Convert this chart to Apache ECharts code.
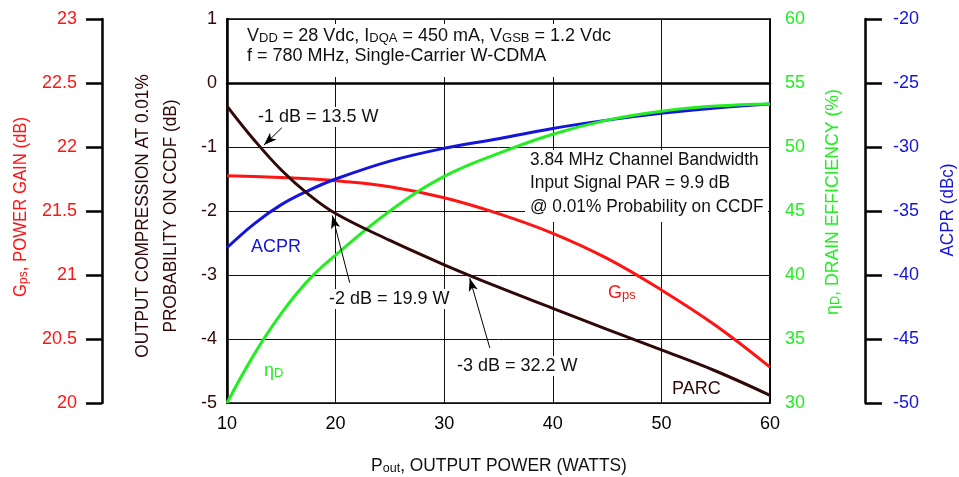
<!DOCTYPE html>
<html>
<head>
<meta charset="utf-8">
<script src="https://cdn.jsdelivr.net/npm/echarts@6/dist/echarts.min.js"></script>
<style>html,body{margin:0;padding:0;background:#fff}#c{width:959px;height:477px}</style>
</head>
<body>
<div id="c"></div>
<script>
// ---- data ----
const poutW = [10, 12.5, 15, 17.5, 20, 25, 30, 35, 40, 45, 50, 55, 60];
const parcDb = [-0.36, -0.89, -1.36, -1.74, -2.04, -2.46, -2.84, -3.19, -3.52, -3.85, -4.17, -4.50, -4.88];
const gpsDb = [21.776, 21.77, 21.762, 21.752, 21.737, 21.69, 21.604, 21.48, 21.326, 21.13, 20.883, 20.605, 20.28];
const acprDbc = [-37.87, -36.0, -34.5, -33.4, -32.5, -31.1, -30.1, -29.35, -28.55, -27.9, -27.37, -26.95, -26.64];
const effPct = [30, 33.8, 37.0, 39.6, 41.56, 45.0, 47.7, 49.5, 51.0, 52.1, 52.8, 53.2, 53.36];
const xTicks = [10, 20, 30, 40, 50, 60];

const F = "'Liberation Sans',Arial,sans-serif";
const BROWN = '#300808', RED = '#ff1414', GREEN = '#22ee22', BLUE = '#1414dd';
const pairs = ys => poutW.map((x, i) => [x, ys[i]]);

const chart = echarts.init(document.getElementById('c'), null, {renderer: 'canvas'});
const lbl = (c, m) => ({color: c, fontSize: 18, fontFamily: F, margin: m});

const sub = (fs) => ({
  n: {fontSize: fs, fontFamily: F, lineHeight: 20, verticalAlign: 'bottom'},
  s: {fontSize: Math.round(fs * 0.72), fontFamily: F, lineHeight: 9, verticalAlign: 'bottom'}
});

function lineSeries(name, ys, axis, color) {
  return {name, type: 'line', yAxisIndex: axis, data: pairs(ys), smooth: 0.4,
          symbol: 'none', lineStyle: {color, width: 3}, z: 2, silent: true};
}

const parcSeries = lineSeries('PARC', parcDb, 0, BROWN);
parcSeries.markLine = {
  silent: true, symbol: ['none', 'arrow'], symbolSize: [7, 13], animation: false,
  lineStyle: {color: '#000', width: 1, type: 'solid'}, label: {show: false},
  data: [
    [{coord: [15.05, -0.70]}, {coord: [13.4, -0.97]}],
    [{coord: [21.3, -3.12]}, {coord: [19.7, -2.07]}],
    [{coord: [34.2, -4.14]}, {coord: [32.35, -3.05]}]
  ]
};

const option = {
  animation: false,
  grid: {left: 227, right: 189, top: 19, bottom: 74, show: true, borderColor: '#000', borderWidth: 1.5, backgroundColor: 'transparent'},
  xAxis: {
    type: 'value', min: 10, max: 60, interval: 10,
    axisLine: {lineStyle: {color: '#000', width: 2.5}}, axisTick: {show: false},
    axisLabel: lbl('#000', 12),
    splitLine: {show: true, lineStyle: {color: '#111', width: 1}}
  },
  yAxis: [
    {type: 'value', min: -5, max: 1, interval: 1, position: 'left',
     axisLine: {show: true, lineStyle: {color: '#000', width: 2.5}}, axisTick: {show: false},
     axisLabel: lbl(BROWN, 10), splitLine: {show: true, lineStyle: {color: '#111', width: 1}}},
    {type: 'value', min: 20, max: 23, interval: 0.5, position: 'left', offset: 125,
     axisLine: {show: true, lineStyle: {color: '#000', width: 2.5}},
     axisTick: {show: true, length: 16, lineStyle: {color: '#000', width: 2.5}},
     axisLabel: lbl(RED, 25), splitLine: {show: false}},
    {type: 'value', min: 30, max: 60, interval: 5, position: 'right',
     axisLine: {show: true, lineStyle: {color: '#000', width: 1.5}}, axisTick: {show: false},
     axisLabel: lbl(GREEN, 15), splitLine: {show: false}},
    {type: 'value', min: -50, max: -20, interval: 5, position: 'right', offset: 95,
     axisLine: {show: true, lineStyle: {color: '#000', width: 2.5}},
     axisTick: {show: true, length: 17, lineStyle: {color: '#000', width: 2.5}},
     axisLabel: lbl(BLUE, 28), splitLine: {show: false}}
  ],
  series: [
    lineSeries('Gps', gpsDb, 1, RED),
    lineSeries('ACPR', acprDbc, 3, BLUE),
    lineSeries('Efficiency', effPct, 2, GREEN),
    parcSeries
  ],
  graphic: [
    // white boxes
    {type: 'rect', z: 1, silent: true, shape: {x: 229, y: 24, width: 414, height: 53}, style: {fill: '#fff'}},
    {type: 'rect', z: 1, silent: true, shape: {x: 525, y: 150, width: 243, height: 72}, style: {fill: '#fff'}},
    // condition text
    {type: 'text', z: 5, x: 247, y: 25, style: {
      text: '{n|V}{s|DD}{n| = 28 Vdc, I}{s|DQA}{n| = 450 mA, V}{s|GSB}{n| = 1.2 Vdc}\n{n|f = 780 MHz, Single-Carrier W-CDMA}',
      rich: sub(18), fill: '#111', align: 'left', verticalAlign: 'top'}},
    {type: 'text', z: 5, x: 530, y: 148, scaleX: 0.96, style: {
      text: '3.84 MHz Channel Bandwidth\nInput Signal PAR = 9.9 dB\n@ 0.01% Probability on CCDF',
      font: '18px ' + F, lineHeight: 23.5, fill: '#111', align: 'left', verticalAlign: 'top'}},
    // point labels
    {type: 'text', z: 5, x: 256, y: 117, style: {text: '-1 dB = 13.5 W', font: '18px ' + F, fill: '#111',
      align: 'left', verticalAlign: 'middle', backgroundColor: '#fff', padding: [1, 2]}},
    {type: 'text', z: 5, x: 327, y: 299, style: {text: '-2 dB = 19.9 W', font: '18px ' + F, fill: '#111',
      align: 'left', verticalAlign: 'middle', backgroundColor: '#fff', padding: [1, 2]}},
    {type: 'text', z: 5, x: 455, y: 366, style: {text: '-3 dB = 32.2 W', font: '18px ' + F, fill: '#111',
      align: 'left', verticalAlign: 'middle', backgroundColor: '#fff', padding: [1, 2]}},
    // curve labels
    {type: 'text', z: 5, x: 251, y: 247, style: {text: 'ACPR', font: '18px ' + F, fill: BLUE, align: 'left', verticalAlign: 'middle'}},
    {type: 'text', z: 5, x: 264, y: 360, style: {text: '{n|\u03b7}{s|D}', rich: sub(18), fill: GREEN, align: 'left', verticalAlign: 'top'}},
    {type: 'text', z: 5, x: 608, y: 282, style: {text: '{n|G}{s|ps}', rich: sub(18), fill: RED, align: 'left', verticalAlign: 'top'}},
    {type: 'text', z: 5, x: 672, y: 389, style: {text: 'PARC', font: '18px ' + F, fill: BROWN, align: 'left', verticalAlign: 'middle'}},
    // axis titles
    {type: 'text', z: 5, x: 20, y: 207, rotation: Math.PI / 2, scaleX: 0.93, style: {
      text: '{n|G}{s|ps}{n|, POWER GAIN (dB)}', rich: sub(18), fill: RED, align: 'center', verticalAlign: 'middle'}},
    {type: 'text', z: 5, x: 157, y: 216, rotation: Math.PI / 2, scaleX: 0.955, style: {
      text: 'OUTPUT COMPRESSION AT 0.01%\nPROBABILITY ON CCDF (dB)', font: '18px ' + F, lineHeight: 28,
      fill: BROWN, align: 'center', verticalAlign: 'middle'}},
    {type: 'text', z: 5, x: 832, y: 202, rotation: Math.PI / 2, scaleX: 0.98, style: {
      text: '{n|\u03b7}{s|D}{n|, DRAIN EFFICIENCY (%)}', rich: sub(18), fill: GREEN, align: 'center', verticalAlign: 'middle'}},
    {type: 'text', z: 5, x: 948, y: 210, rotation: Math.PI / 2, scaleX: 0.95, style: {
      text: 'ACPR (dBc)', font: '18px ' + F, fill: BLUE, align: 'center', verticalAlign: 'middle'}},
    {type: 'text', z: 5, x: 499, y: 465, scaleX: 0.965, style: {
      text: '{n|P}{s|out}{n|, OUTPUT POWER (WATTS)}', rich: sub(18), fill: '#111', align: 'center', verticalAlign: 'middle'}}
  ]
};
chart.setOption(option);
</script>
</body>
</html>
